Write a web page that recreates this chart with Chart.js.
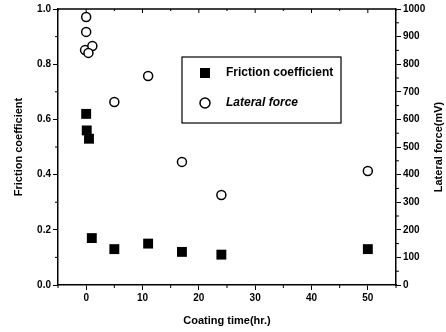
<!DOCTYPE html>
<html>
<head>
<meta charset="utf-8">
<script src="https://cdn.jsdelivr.net/npm/chart.js@4.4.1/dist/chart.umd.min.js"></script>
<style>
  html, body { margin: 0; padding: 0; background: #fff; }
  #wrap { width: 446px; height: 332px; }
</style>
</head>
<body>
<div id="wrap"><canvas id="myChart" width="446" height="332"></canvas></div>
<script>
// data
const frictionTime = [0, 0.1, 0.5, 1, 5, 11, 17, 24, 50];
const frictionCoef = [0.62, 0.56, 0.53, 0.17, 0.13, 0.15, 0.12, 0.11, 0.13];
const lateralTime = [0, 0, -0.2, 1.1, 0.4, 5, 11, 17, 24, 50];
const lateralForce = [971, 917, 851, 866, 841, 663, 757, 446, 326, 413];
const xTicks = [0, 10, 20, 30, 40, 50];
const leftTicks = [0, 0.2, 0.4, 0.6, 0.8, 1.0];
const rightTicks = [0, 100, 200, 300, 400, 500, 600, 700, 800, 900, 1000];

const FONT = '"Liberation Sans", Arial, sans-serif';

function toPoints(xs, ys) {
  return xs.map((x, i) => ({ x: x, y: ys[i] }));
}

// minor ticks, top border, legend box, axis titles
const extras = {
  id: 'extras',
  afterDraw(chart) {
    const ctx = chart.ctx;
    const a = chart.chartArea;
    const x = chart.scales.x, y = chart.scales.y, y1 = chart.scales.y1;
    ctx.save();
    ctx.strokeStyle = '#000';
    ctx.lineWidth = 1.5;
    ctx.beginPath();
    ctx.moveTo(a.left, a.top);
    ctx.lineTo(a.right, a.top);
    ctx.stroke();

    ctx.lineWidth = 1;
    ctx.beginPath();
    for (let v = -5; v <= 55; v += 5) {
      const px = x.getPixelForValue(v);
      const major = v % 10 === 0;
      if (!major) { ctx.moveTo(px, a.bottom); ctx.lineTo(px, a.bottom + 3); }
      ctx.moveTo(px, a.top); ctx.lineTo(px, a.top + (major ? 4 : 2));
    }
    for (let v = 0.1; v < 1; v += 0.2) {
      const py = y.getPixelForValue(v);
      ctx.moveTo(a.left, py); ctx.lineTo(a.left - 3, py);
    }
    for (let v = 50; v < 1000; v += 100) {
      const py = y1.getPixelForValue(v);
      ctx.moveTo(a.right, py); ctx.lineTo(a.right + 3, py);
    }
    ctx.stroke();

    // legend
    ctx.lineWidth = 1.2;
    ctx.strokeRect(182, 57, 159, 66);
    ctx.fillStyle = '#000';
    ctx.fillRect(200, 68, 10, 10);
    ctx.lineWidth = 1.5;
    ctx.beginPath();
    ctx.arc(205, 103, 5, 0, Math.PI * 2);
    ctx.stroke();
    ctx.textBaseline = 'middle';
    ctx.textAlign = 'left';
    ctx.font = 'bold 12px ' + FONT;
    ctx.fillText('Friction coefficient', 226, 73);
    ctx.font = 'italic bold 12px ' + FONT;
    ctx.fillText('Lateral force', 226, 103);

    // titles
    const midY = (a.top + a.bottom) / 2;
    ctx.font = 'bold 11px ' + FONT;
    ctx.textAlign = 'center';
    ctx.fillText('Coating time(hr.)', (a.left + a.right) / 2, 321);
    ctx.save();
    ctx.translate(19, midY);
    ctx.rotate(-Math.PI / 2);
    ctx.fillText('Friction coefficient', 0, 0);
    ctx.restore();
    ctx.save();
    ctx.translate(439, midY);
    ctx.rotate(-Math.PI / 2);
    ctx.fillText('Lateral force(mV)', 0, 0);
    ctx.restore();
    ctx.restore();
  }
};

const tickFont = { family: FONT, size: 10, weight: 'bold' };

new Chart(document.getElementById('myChart').getContext('2d'), {
  type: 'scatter',
  data: {
    datasets: [
      {
        label: 'Friction coefficient',
        data: toPoints(frictionTime, frictionCoef),
        yAxisID: 'y',
        pointStyle: 'rect',
        pointRadius: 7,
        backgroundColor: '#000',
        borderColor: '#000',
        borderWidth: 0
      },
      {
        label: 'Lateral force',
        data: toPoints(lateralTime, lateralForce),
        yAxisID: 'y1',
        pointStyle: 'circle',
        pointRadius: 4.5,
        backgroundColor: '#fff',
        borderColor: '#000',
        borderWidth: 1.5
      }
    ]
  },
  plugins: [extras],
  options: {
    responsive: false,
    animation: false,
    layout: { padding: { top: 9, right: 0, left: 0, bottom: 0 } },
    plugins: { legend: { display: false }, tooltip: { enabled: false } },
    scales: {
      x: {
        type: 'linear',
        min: -5, max: 55,
        afterBuildTicks: s => { s.ticks = xTicks.map(v => ({ value: v })); },
        afterFit: s => { s.height = 47; },
        ticks: { color: '#000', font: tickFont, padding: 2, callback: v => String(v) },
        grid: { drawOnChartArea: false, color: '#000', tickLength: 5, lineWidth: 1 },
        border: { color: '#000', width: 1.5 }
      },
      y: {
        type: 'linear', position: 'left',
        min: 0, max: 1,
        afterBuildTicks: s => { s.ticks = leftTicks.map(v => ({ value: v })); },
        afterFit: s => { s.width = 58; },
        ticks: { color: '#000', font: tickFont, padding: 2, callback: v => v.toFixed(1) },
        grid: { drawOnChartArea: false, color: '#000', tickLength: 5, lineWidth: 1 },
        border: { color: '#000', width: 1.5 }
      },
      y1: {
        type: 'linear', position: 'right',
        min: 0, max: 1000,
        afterBuildTicks: s => { s.ticks = rightTicks.map(v => ({ value: v })); },
        afterFit: s => { s.width = 50; },
        ticks: { color: '#000', font: tickFont, padding: 2, callback: v => String(v) },
        grid: { drawOnChartArea: false, color: '#000', tickLength: 5, lineWidth: 1 },
        border: { color: '#000', width: 1.5 }
      }
    }
  }
});
</script>
</body>
</html>
